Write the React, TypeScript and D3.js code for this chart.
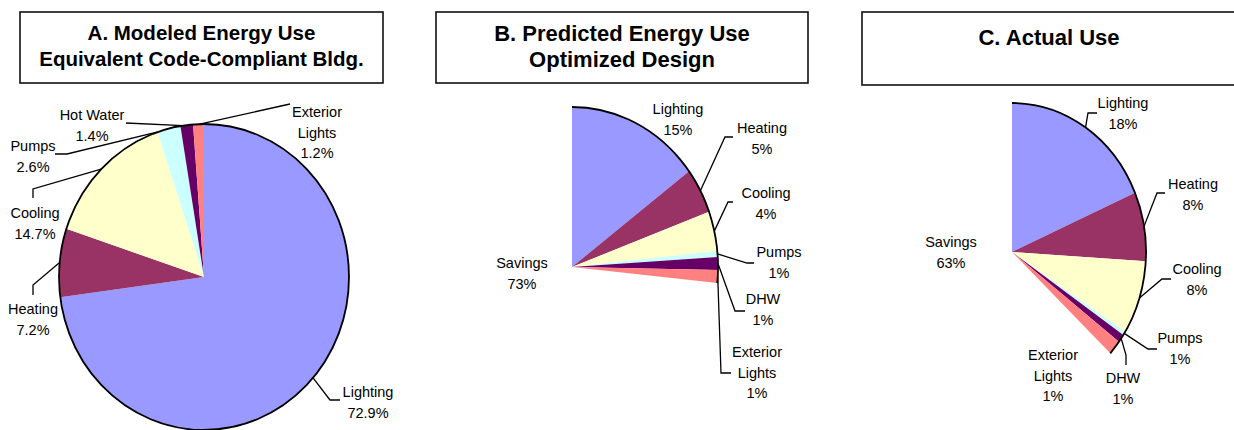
import React from "react";
import * as d3 from "d3";

// ---------- data ----------
const categoriesA = ["Lighting", "Heating", "Cooling", "Pumps", "Hot Water", "Exterior Lights"];
const valuesA = [72.9, 7.2, 14.7, 2.6, 1.4, 1.2];
const labelsA = ["72.9%", "7.2%", "14.7%", "2.6%", "1.4%", "1.2%"];

const categoriesB = ["Lighting", "Heating", "Cooling", "Pumps", "DHW", "Exterior Lights", "Savings"];
const valuesB = [14.8, 4.6, 4.0, 0.6, 1.3, 1.3, 73.4];
const labelsB = ["15%", "5%", "4%", "1%", "1%", "1%", "73%"];

const categoriesC = ["Lighting", "Heating", "Cooling", "Pumps", "DHW", "Exterior Lights", "Savings"];
const valuesC = [18.5, 7.5, 8.0, 0.4, 0.9, 1.6, 63.1];
const labelsC = ["18%", "8%", "8%", "1%", "1%", "1%", "63%"];

const titlesA = ["A. Modeled Energy Use", "Equivalent Code-Compliant Bldg."];
const titlesB = ["B. Predicted Energy Use", "Optimized Design"];
const titlesC = ["C. Actual Use"];

const colorMap: Record<string, string> = {
  Lighting: "#9999FF",
  Heating: "#993366",
  Cooling: "#FFFFCC",
  Pumps: "#CCFFFF",
  "Hot Water": "#660066",
  DHW: "#660066",
  "Exterior Lights": "#FF8080",
  Savings: "none",
};

// ---------- layout ----------
type LabelLayout = { x: number; y: number; leader?: [number, number][]; t?: number };
type Panel = {
  categories: string[];
  values: number[];
  labels: string[];
  titles: string[];
  titleSize: number;
  titleY: number[];
  box: { x: number; y: number; w: number; h: number };
  cx: number;
  cy: number;
  rx: number;
  ry: number;
  labelLayout: Record<string, LabelLayout>;
};

const panels: Panel[] = [
  {
    categories: categoriesA,
    values: valuesA,
    labels: labelsA,
    titles: titlesA,
    titleSize: 20.5,
    titleY: [32, 58],
    box: { x: 20, y: 12, w: 363, h: 71 },
    cx: 204,
    cy: 277,
    rx: 145,
    ry: 153,
    labelLayout: {
      Lighting: { x: 368, y: 392, leader: [[330, 400], [340, 400]] },
      Heating: { x: 33, y: 309, leader: [[33, 285], [33, 295]] },
      Cooling: { x: 35, y: 213, leader: [[33, 189], [33, 198]] },
      Pumps: { x: 33, y: 146, leader: [[67, 154], [55, 154]], t: 0.02 },
      "Hot Water": { x: 92, y: 115, leader: [[126, 123]], t: 0.2 },
      "Exterior Lights": { x: 317, y: 112, leader: [[290, 104]], t: 0.6 },
    },
  },
  {
    categories: categoriesB,
    values: valuesB,
    labels: labelsB,
    titles: titlesB,
    titleSize: 22,
    titleY: [33, 59],
    box: { x: 436, y: 12, w: 372, h: 71 },
    cx: 572,
    cy: 267,
    rx: 146,
    ry: 160,
    labelLayout: {
      Lighting: { x: 678, y: 109 },
      Heating: { x: 762, y: 128, leader: [[725, 137], [733, 137]] },
      Cooling: { x: 766, y: 193, leader: [[728, 202], [733, 202]] },
      Pumps: { x: 779, y: 252, leader: [[747, 263], [754, 263]] },
      DHW: { x: 763, y: 299, leader: [[735, 311], [745, 311]] },
      "Exterior Lights": { x: 757, y: 352, leader: [[721, 373], [731, 373]] },
      Savings: { x: 522, y: 263 },
    },
  },
  {
    categories: categoriesC,
    values: valuesC,
    labels: labelsC,
    titles: titlesC,
    titleSize: 22,
    titleY: [37],
    box: { x: 862, y: 12, w: 374, h: 73 },
    cx: 1012,
    cy: 252,
    rx: 134,
    ry: 149,
    labelLayout: {
      Lighting: { x: 1123, y: 103, leader: [[1088, 113], [1097, 113]] },
      Heating: { x: 1193, y: 184, leader: [[1157, 193], [1165, 193]] },
      Cooling: { x: 1197, y: 269, leader: [[1162, 279], [1171, 279]] },
      Pumps: { x: 1180, y: 338, leader: [[1148, 349], [1157, 349]] },
      DHW: { x: 1123, y: 378, leader: [[1126, 355], [1126, 365]] },
      "Exterior Lights": { x: 1053, y: 355 },
      Savings: { x: 951, y: 242 },
    },
  },
];

const FONT = "Arial, 'Liberation Sans', Helvetica, sans-serif";
const LABEL_SIZE = 14.5;
const LINE_H = 20.5;

function splitName(name: string): string[] {
  return name === "Exterior Lights" ? ["Exterior", "Lights"] : [name];
}

function PiePanel({ p }: { p: Panel }) {
  const pie = d3
    .pie<number>()
    .sort(null)
    .value((d) => d)
    .startAngle(0)
    .endAngle(2 * Math.PI);
  const arcs = pie(p.values);
  const arcGen = d3.arc<d3.PieArcDatum<number>>().innerRadius(0).outerRadius(p.ry);
  const sx = p.rx / p.ry;

  // outline only over visible (non-savings) slices
  const visible = arcs.filter((a, i) => colorMap[p.categories[i]] !== "none");
  const a0 = d3.min(visible, (a) => a.startAngle) ?? 0;
  const a1 = d3.max(visible, (a) => a.endAngle) ?? 2 * Math.PI;
  const outline = d3.path();
  if (a1 - a0 >= 2 * Math.PI - 1e-6) {
    outline.arc(0, 0, p.ry, 0, 2 * Math.PI);
    outline.closePath();
  } else {
    outline.arc(0, 0, p.ry, a0 - Math.PI / 2, a1 - Math.PI / 2, false);
  }

  const pointAt = (ang: number): [number, number] => [
    p.cx + p.rx * Math.sin(ang),
    p.cy - p.ry * Math.cos(ang),
  ];

  return (
    <g>
      <rect
        x={p.box.x}
        y={p.box.y}
        width={p.box.w}
        height={p.box.h}
        fill="#fff"
        stroke="#111"
        strokeWidth={1.6}
      />
      {p.titles.map((t, i) => (
        <text
          key={i}
          x={p.box.x + p.box.w / 2}
          y={p.titleY[i]}
          textAnchor="middle"
          dominantBaseline="central"
          fontFamily={FONT}
          fontWeight="bold"
          fontSize={p.titleSize}
          fill="#000"
        >
          {t}
        </text>
      ))}
      <g transform={`translate(${p.cx},${p.cy}) scale(${sx},1)`}>
        {arcs.map((a, i) => {
          const fill = colorMap[p.categories[i]];
          if (fill === "none") return null;
          return <path key={i} d={arcGen(a) || ""} fill={fill} stroke="none" />;
        })}
        <path
          d={outline.toString()}
          fill="none"
          stroke="#000"
          strokeWidth={1.8}
          vectorEffect="non-scaling-stroke"
        />
      </g>
      {arcs.map((a, i) => {
        const cat = p.categories[i];
        const lay = p.labelLayout[cat];
        if (!lay) return null;
        const t = lay.t ?? 0.5;
        const ang = a.startAngle + (a.endAngle - a.startAngle) * t;
        const anchor = pointAt(ang);
        const lines = [...splitName(cat), p.labels[i]];
        return (
          <g key={i}>
            {lay.leader && (
              <polyline
                points={[anchor, ...lay.leader].map((q) => q.join(",")).join(" ")}
                fill="none"
                stroke="#000"
                strokeWidth={1.3}
              />
            )}
            {lines.map((ln, j) => (
              <text
                key={j}
                x={lay.x}
                y={lay.y + j * LINE_H}
                textAnchor="middle"
                dominantBaseline="central"
                fontFamily={FONT}
                fontSize={LABEL_SIZE}
                fill="#000"
              >
                {ln}
              </text>
            ))}
          </g>
        );
      })}
    </g>
  );
}

export default function App() {
  return (
    <svg
      width={1234}
      height={430}
      viewBox="0 0 1234 430"
      style={{ position: "absolute", left: 0, top: 0, display: "block", background: "#fff" }}
    >
      <rect width={1234} height={430} fill="#fff" />
      {panels.map((p, i) => (
        <PiePanel key={i} p={p} />
      ))}
    </svg>
  );
}
